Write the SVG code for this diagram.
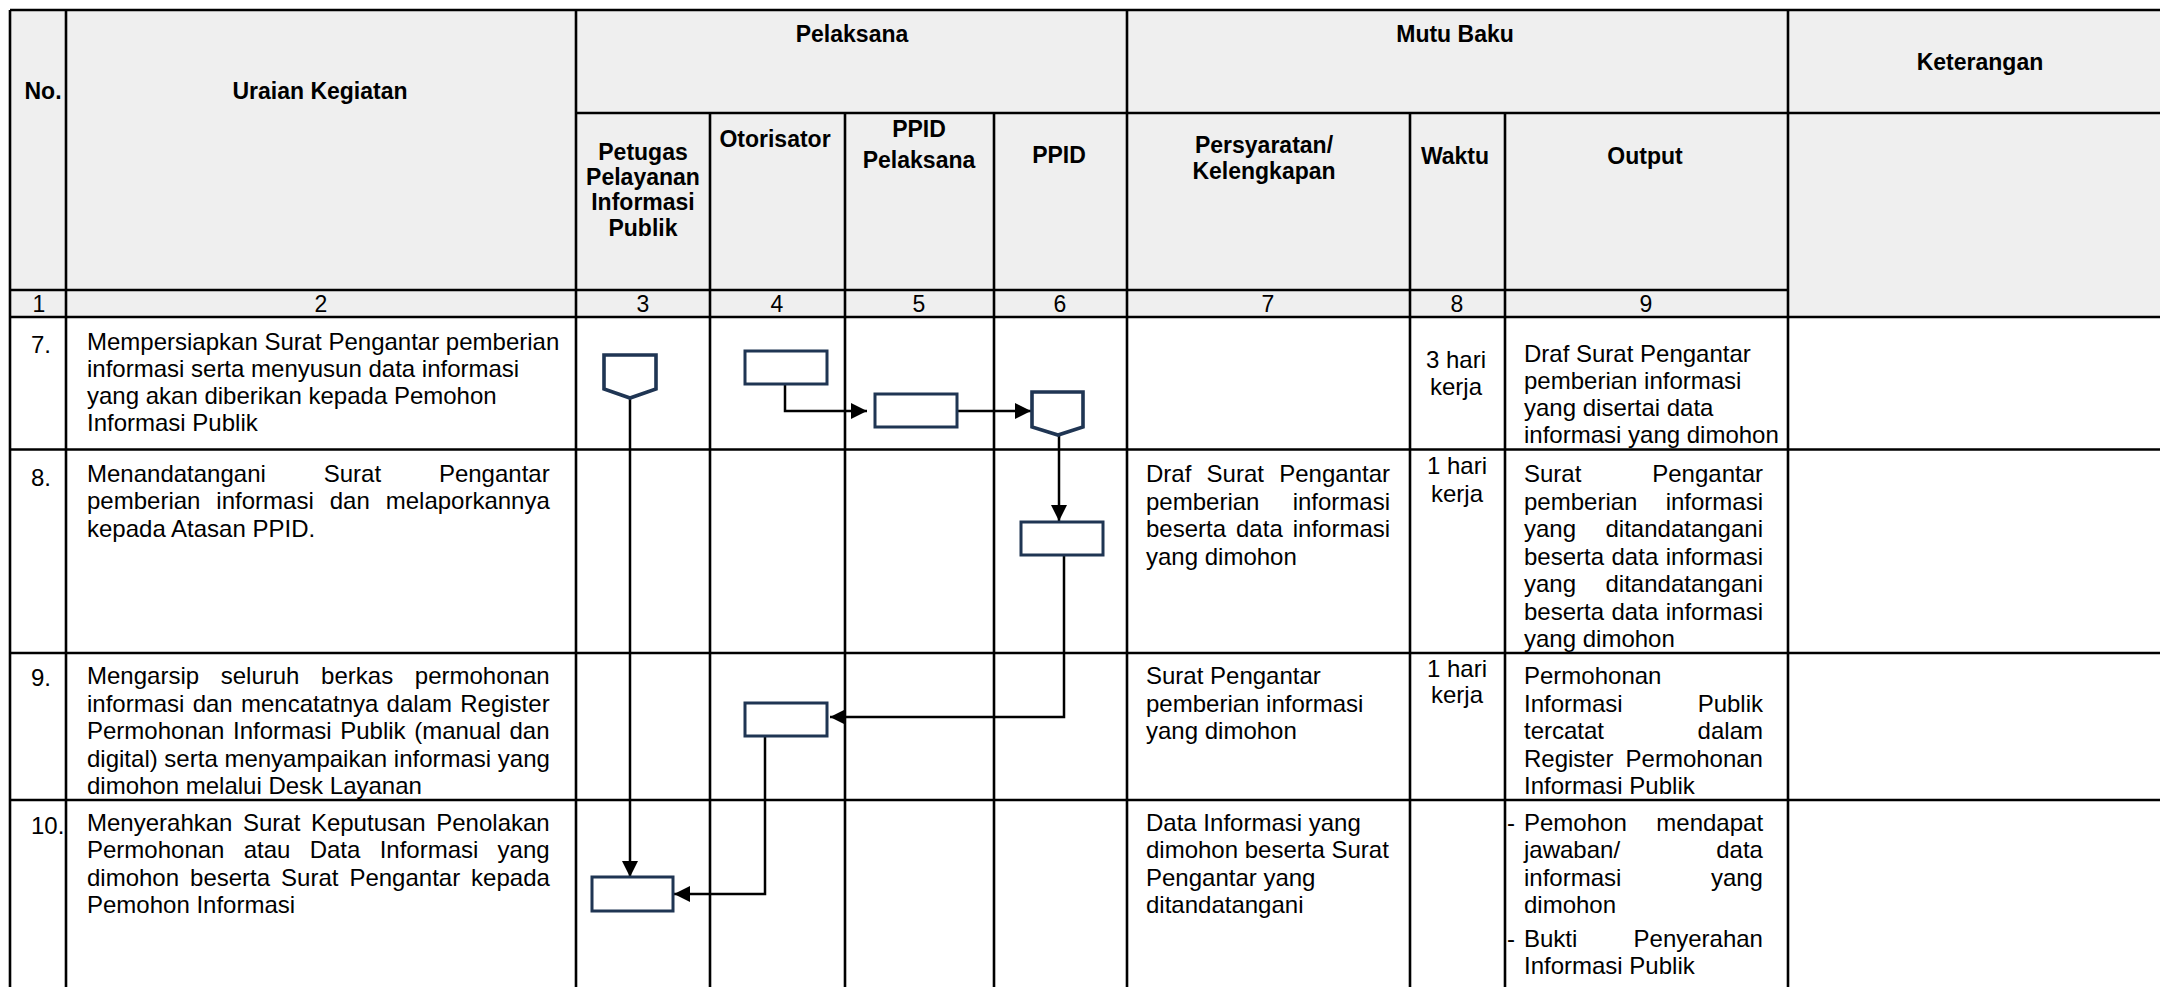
<svg xmlns="http://www.w3.org/2000/svg" width="2160" height="987" viewBox="0 0 2160 987">
<style>
.h{font-family:"Liberation Sans",Arial,sans-serif;font-weight:bold;font-size:23px;text-anchor:middle;fill:#000}
.t{font-family:"Liberation Sans",Arial,sans-serif;font-size:24px;fill:#000}
.n{font-family:"Liberation Sans",Arial,sans-serif;font-size:23px;text-anchor:middle;fill:#000}
.c{text-anchor:middle}
.grid{stroke:#000;stroke-width:2.6;fill:none}
.node{fill:#fff;stroke:#1f3553;stroke-width:3}
.pent{fill:#fff;stroke:#1f3553;stroke-width:3.6;stroke-linejoin:miter}
.conn{fill:none;stroke:#000;stroke-width:2.5;marker-end:url(#arr)}
</style>
<defs>
<marker id="arr" markerUnits="userSpaceOnUse" markerWidth="16" markerHeight="16" viewBox="0 0 16 16" refX="16" refY="8" orient="auto">
<path d="M0,0 L16,8 L0,16 z" fill="#000"/>
</marker>
</defs>
<rect x="0" y="0" width="2160" height="987" fill="#fff"/>
<rect x="10" y="10" width="2150" height="307" fill="#efefef"/>

<g id="grid" class="grid">
<line x1="10" y1="10" x2="2160" y2="10"/>
<line x1="576" y1="113" x2="2160" y2="113"/>
<line x1="10" y1="290" x2="1788" y2="290"/>
<line x1="10" y1="317" x2="2160" y2="317"/>
<line x1="10" y1="449.5" x2="2160" y2="449.5"/>
<line x1="10" y1="653" x2="2160" y2="653"/>
<line x1="10" y1="800" x2="2160" y2="800"/>
<line x1="10" y1="10" x2="10" y2="987"/>
<line x1="66" y1="10" x2="66" y2="987"/>
<line x1="576" y1="10" x2="576" y2="987"/>
<line x1="710" y1="113" x2="710" y2="987"/>
<line x1="845" y1="113" x2="845" y2="987"/>
<line x1="994" y1="113" x2="994" y2="987"/>
<line x1="1127" y1="10" x2="1127" y2="987"/>
<line x1="1410" y1="113" x2="1410" y2="987"/>
<line x1="1505" y1="113" x2="1505" y2="987"/>
<line x1="1788" y1="10" x2="1788" y2="987"/>
</g>

<g id="header">
<text class="h" x="43" y="99">No.</text>
<text class="h" x="320" y="99">Uraian Kegiatan</text>
<text class="h" x="852" y="42">Pelaksana</text>
<text class="h" x="1455" y="42">Mutu Baku</text>
<text class="h" x="1980" y="70">Keterangan</text>
<text class="h" x="643" y="159.5">Petugas</text>
<text class="h" x="643" y="185">Pelayanan</text>
<text class="h" x="643" y="210">Informasi</text>
<text class="h" x="643" y="235.5">Publik</text>
<text class="h" x="775" y="147">Otorisator</text>
<text class="h" x="919" y="137">PPID</text>
<text class="h" x="919" y="168">Pelaksana</text>
<text class="h" x="1059" y="163">PPID</text>
<text class="h" x="1264" y="153">Persyaratan/</text>
<text class="h" x="1264" y="179">Kelengkapan</text>
<text class="h" x="1455" y="163.5">Waktu</text>
<text class="h" x="1645" y="163.5">Output</text>
<text class="n" x="39" y="312">1</text>
<text class="n" x="321" y="312">2</text>
<text class="n" x="643" y="312">3</text>
<text class="n" x="777" y="312">4</text>
<text class="n" x="919" y="312">5</text>
<text class="n" x="1060" y="312">6</text>
<text class="n" x="1268" y="312">7</text>
<text class="n" x="1457" y="312">8</text>
<text class="n" x="1646" y="312">9</text>
</g>

<g id="row7">
<text class="t" x="31" y="353">7.</text>
<text class="t" x="87" y="349.5">Mempersiapkan Surat Pengantar pemberian</text>
<text class="t" x="87" y="377">informasi serta menyusun data informasi</text>
<text class="t" x="87" y="404">yang akan diberikan kepada Pemohon</text>
<text class="t" x="87" y="431">Informasi Publik</text>
<text class="t c" x="1456" y="368">3 hari</text>
<text class="t c" x="1456" y="395">kerja</text>
<text class="t" x="1524" y="361.5">Draf Surat Pengantar</text>
<text class="t" x="1524" y="388.5">pemberian informasi</text>
<text class="t" x="1524" y="416">yang disertai data</text>
<text class="t" x="1524" y="443">informasi yang dimohon</text>
</g>

<g id="row8">
<text class="t" x="31" y="486">8.</text>
<text class="t" x="87" y="482" word-spacing="51.2">Menandatangani Surat Pengantar</text>
<text class="t" x="87" y="509" word-spacing="9.3">pemberian informasi dan melaporkannya</text>
<text class="t" x="87" y="536.5">kepada Atasan PPID.</text>
<text class="t" x="1146" y="482" word-spacing="8.6">Draf Surat Pengantar</text>
<text class="t" x="1146" y="509.5" word-spacing="26.6">pemberian informasi</text>
<text class="t" x="1146" y="537" word-spacing="3.3">beserta data informasi</text>
<text class="t" x="1146" y="564.5">yang dimohon</text>
<text class="t c" x="1457" y="474">1 hari</text>
<text class="t c" x="1457" y="501.5">kerja</text>
<text class="t" x="1524" y="482" word-spacing="64.2">Surat Pengantar</text>
<text class="t" x="1524" y="509.5" word-spacing="21.6">pemberian informasi</text>
<text class="t" x="1524" y="537" word-spacing="22.8">yang ditandatangani</text>
<text class="t" x="1524" y="564.5" word-spacing="0.8">beserta data informasi</text>
<text class="t" x="1524" y="592" word-spacing="22.8">yang ditandatangani</text>
<text class="t" x="1524" y="619.5" word-spacing="0.8">beserta data informasi</text>
<text class="t" x="1524" y="647">yang dimohon</text>
</g>

<g id="row9">
<text class="t" x="31" y="686">9.</text>
<text class="t" x="87" y="684" word-spacing="15">Mengarsip seluruh berkas permohonan</text>
<text class="t" x="87" y="711.5" word-spacing="1.6">informasi dan mencatatnya dalam Register</text>
<text class="t" x="87" y="739" word-spacing="1.9">Permohonan Informasi Publik (manual dan</text>
<text class="t" x="87" y="766.5">digital) serta menyampaikan informasi yang</text>
<text class="t" x="87" y="793.5">dimohon melalui Desk Layanan</text>
<text class="t" x="1146" y="684">Surat Pengantar</text>
<text class="t" x="1146" y="711.5">pemberian informasi</text>
<text class="t" x="1146" y="739">yang dimohon</text>
<text class="t c" x="1457" y="677">1 hari</text>
<text class="t c" x="1457" y="703">kerja</text>
<text class="t" x="1524" y="684">Permohonan</text>
<text class="t" x="1524" y="711.5" word-spacing="68.3">Informasi Publik</text>
<text class="t" x="1524" y="739" word-spacing="86.9">tercatat dalam</text>
<text class="t" x="1524" y="766.5" word-spacing="5.5">Register Permohonan</text>
<text class="t" x="1524" y="793.5">Informasi Publik</text>
</g>

<g id="row10">
<text class="t" x="31" y="834">10.</text>
<text class="t" x="87" y="831" word-spacing="3.9">Menyerahkan Surat Keputusan Penolakan</text>
<text class="t" x="87" y="858" word-spacing="12.6">Permohonan atau Data Informasi yang</text>
<text class="t" x="87" y="886" word-spacing="4.3">dimohon beserta Surat Pengantar kepada</text>
<text class="t" x="87" y="913">Pemohon Informasi</text>
<text class="t" x="1146" y="831">Data Informasi yang</text>
<text class="t" x="1146" y="858">dimohon beserta Surat</text>
<text class="t" x="1146" y="886">Pengantar yang</text>
<text class="t" x="1146" y="913">ditandatangani</text>
<text class="t" x="1507" y="831">-</text>
<text class="t" x="1524" y="831" word-spacing="22.9">Pemohon mendapat</text>
<text class="t" x="1524" y="858" word-spacing="89.5">jawaban/ data</text>
<text class="t" x="1524" y="886" word-spacing="82.9">informasi yang</text>
<text class="t" x="1524" y="913">dimohon</text>
<text class="t" x="1507" y="947">-</text>
<text class="t" x="1524" y="947" word-spacing="49.5">Bukti Penyerahan</text>
<text class="t" x="1524" y="974">Informasi Publik</text>
</g>

<g id="connectors">
<path class="conn" d="M630,398 L630,877"/>
<path class="conn" d="M785,384 L785,411 L867,411"/>
<path class="conn" d="M957,411 L1031,411"/>
<path class="conn" d="M1059,435 L1059,521"/>
<path class="conn" d="M1064,555 L1064,717 L830,717"/>
<path class="conn" d="M765,736 L765,894 L674,894"/>
</g>

<g id="n7-petugas"><polygon class="pent" points="604,355 656,355 656,389 630,398 604,389"/></g>
<g id="n7-otorisator"><rect class="node" x="745" y="351" width="82" height="33"/></g>
<g id="n7-ppid-pelaksana"><rect class="node" x="875" y="394" width="82" height="33"/></g>
<g id="n7-ppid"><polygon class="pent" points="1032,392 1083,392 1083,427 1058,435 1032,427"/></g>
<g id="n8-ppid"><rect class="node" x="1021" y="522" width="82" height="33"/></g>
<g id="n9-otorisator"><rect class="node" x="745" y="703" width="82" height="33"/></g>
<g id="n10-petugas"><rect class="node" x="592" y="877" width="81" height="34"/></g>
</svg>
